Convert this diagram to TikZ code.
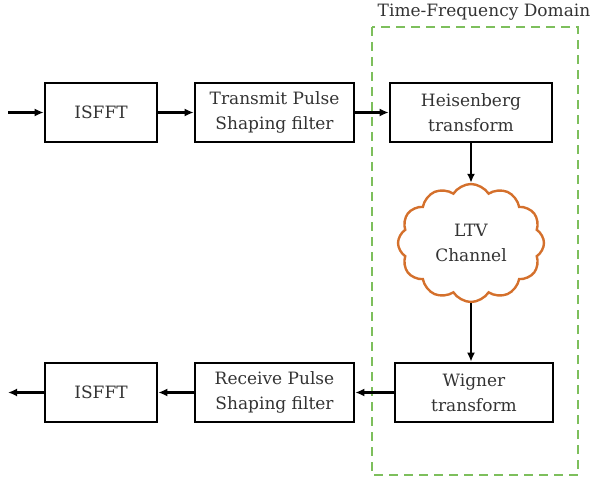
\documentclass[tikz,border=0pt]{standalone}
\usepackage{fontspec}
\setmainfont{DejaVu Serif}
\usepackage{tikz}
\usetikzlibrary{arrows.meta,shapes.symbols}
\definecolor{txtgray}{HTML}{333333}
\definecolor{domgreen}{HTML}{7DBF5C}
\definecolor{cloudorange}{HTML}{D4702C}

\begin{document}
\begin{tikzpicture}[x=1pt,y=1pt,
    every node/.style={font=\fontsize{17}{25}\selectfont, text=txtgray, align=center},
    blockbox/.style={draw=black, line width=2.6pt, minimum height=59pt, inner sep=0pt},
    flow/.style={line width=2.2pt, -{Latex[length=9pt,width=8pt]}}]
    \useasboundingbox (0,0) rectangle (595,483);

    % time-frequency domain frame
    \draw[domgreen, line width=2.4pt, dash pattern=on 9pt off 6pt] (372,456) rectangle (578,8);
    \node (domtitle) at (484,471) {Time-Frequency Domain};

    % transmitter chain
    \node[blockbox, minimum width=112pt] (isfftTx) at (101,370.5) {ISFFT};
    \node[blockbox, minimum width=159pt] (txPulse) at (274.5,370.5) {Transmit Pulse\\Shaping filter};
    \node[blockbox, minimum width=162pt] (heis) at (471,370.5) {Heisenberg\\transform};

    % channel
    \node[cloud, draw=cloudorange, line width=2.4pt, cloud puffs=12, cloud puff arc=115,
          minimum width=146pt, minimum height=118pt, aspect=1.25] (ltv) at (471,240) {LTV\\Channel};

    % receiver chain
    \node[blockbox, minimum width=158pt] (wig) at (474,90.5) {Wigner\\transform};
    \node[blockbox, minimum width=159pt] (rxPulse) at (274.5,90.5) {Receive Pulse\\Shaping filter};
    \node[blockbox, minimum width=112pt] (isfftRx) at (101,90.5) {ISFFT};

    \coordinate (txIn) at (8,370.5);
    \coordinate (rxOut) at (8,90.5);

    \draw[flow] (txIn) -- (isfftTx);
    \draw[flow] (isfftTx) -- (txPulse);
    \draw[flow] (txPulse) -- (heis);
    \draw[flow] (heis) -- (ltv);
    \draw[flow] (ltv) -- (ltv.center |- wig.north);
    \draw[flow] (wig) -- (rxPulse);
    \draw[flow] (rxPulse) -- (isfftRx);
    \draw[flow] (isfftRx) -- (rxOut);
\end{tikzpicture}
\end{document}
